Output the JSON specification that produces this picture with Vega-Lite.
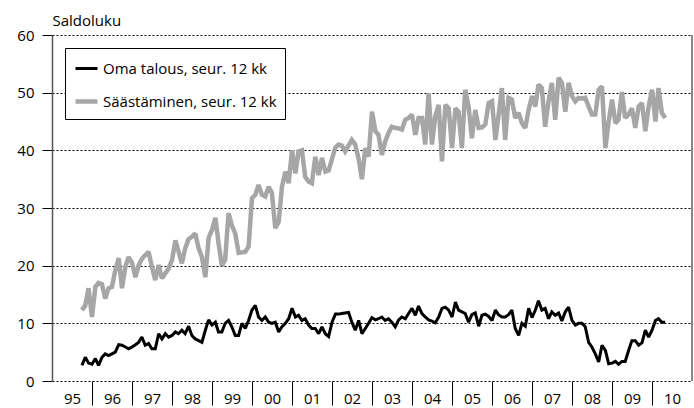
{
  "$schema": "https://vega.github.io/schema/vega-lite/v6.json",
  "width": 640,
  "height": 346,
  "autosize": "none",
  "padding": {"left": 52, "top": 35, "right": 2, "bottom": 27},
  "background": "white",
  "config": {"view": {"stroke": null}, "font": "Open Sans"},
  "data": {"values": [
    {"d":"1995-10-01","o":2.7,"s":12.3},{"d":"1995-11-01","o":4.1,"s":13.1},{"d":"1995-12-01","o":3.1,"s":16.1},
    {"d":"1996-01-01","o":2.9,"s":11.1},{"d":"1996-02-01","o":3.9,"s":16.3},{"d":"1996-03-01","o":2.7,"s":17},{"d":"1996-04-01","o":4.1,"s":16.8},{"d":"1996-05-01","o":4.7,"s":14.3},{"d":"1996-06-01","o":4.4,"s":16.1},{"d":"1996-07-01","o":4.7,"s":16.3},{"d":"1996-08-01","o":5,"s":19.2},{"d":"1996-09-01","o":6.3,"s":21.3},{"d":"1996-10-01","o":6.2,"s":16.1},{"d":"1996-11-01","o":5.9,"s":19.8},{"d":"1996-12-01","o":5.6,"s":21.5},
    {"d":"1997-01-01","o":5.9,"s":20.5},{"d":"1997-02-01","o":6.3,"s":18},{"d":"1997-03-01","o":6.7,"s":20},{"d":"1997-04-01","o":7.6,"s":21.2},{"d":"1997-05-01","o":6.2,"s":21.8},{"d":"1997-06-01","o":6.5,"s":22.4},{"d":"1997-07-01","o":5.6,"s":19.8},{"d":"1997-08-01","o":5.6,"s":17.5},{"d":"1997-09-01","o":8.2,"s":20.1},{"d":"1997-10-01","o":7.3,"s":17.8},{"d":"1997-11-01","o":8.2,"s":18.7},{"d":"1997-12-01","o":7.6,"s":19.5},
    {"d":"1998-01-01","o":7.9,"s":21},{"d":"1998-02-01","o":8.5,"s":24.4},{"d":"1998-03-01","o":8.2,"s":22.5},{"d":"1998-04-01","o":8.8,"s":20.4},{"d":"1998-05-01","o":8.2,"s":23},{"d":"1998-06-01","o":9.5,"s":24.6},{"d":"1998-07-01","o":7.9,"s":25},{"d":"1998-08-01","o":7.3,"s":25.6},{"d":"1998-09-01","o":7,"s":23},{"d":"1998-10-01","o":6.7,"s":21.5},{"d":"1998-11-01","o":8.8,"s":18},{"d":"1998-12-01","o":10.6,"s":24.8},
    {"d":"1999-01-01","o":9.7,"s":26.2},{"d":"1999-02-01","o":10.2,"s":28.3},{"d":"1999-03-01","o":8.5,"s":24},{"d":"1999-04-01","o":8.5,"s":20},{"d":"1999-05-01","o":10,"s":21},{"d":"1999-06-01","o":10.5,"s":29.1},{"d":"1999-07-01","o":9.4,"s":27},{"d":"1999-08-01","o":7.9,"s":25.6},{"d":"1999-09-01","o":7.9,"s":22.2},{"d":"1999-10-01","o":10,"s":22.3},{"d":"1999-11-01","o":9.1,"s":22.4},{"d":"1999-12-01","o":10.5,"s":23.3},
    {"d":"2000-01-01","o":12.3,"s":31.7},{"d":"2000-02-01","o":13.1,"s":32.3},{"d":"2000-03-01","o":11.1,"s":34},{"d":"2000-04-01","o":10.5,"s":32.3},{"d":"2000-05-01","o":11.1,"s":32},{"d":"2000-06-01","o":10.2,"s":33.7},{"d":"2000-07-01","o":10,"s":32.6},{"d":"2000-08-01","o":10.2,"s":26.5},{"d":"2000-09-01","o":8.5,"s":27.6},{"d":"2000-10-01","o":9.4,"s":33.7},{"d":"2000-11-01","o":10,"s":36.3},{"d":"2000-12-01","o":10.8,"s":34.3},
    {"d":"2001-01-01","o":12.6,"s":40},{"d":"2001-02-01","o":11.1,"s":36},{"d":"2001-03-01","o":11.4,"s":39.8},{"d":"2001-04-01","o":10.5,"s":40},{"d":"2001-05-01","o":10.8,"s":35.4},{"d":"2001-06-01","o":9.7,"s":34.6},{"d":"2001-07-01","o":9.1,"s":34.3},{"d":"2001-08-01","o":9.1,"s":38.9},{"d":"2001-09-01","o":8.2,"s":35.7},{"d":"2001-10-01","o":9.4,"s":38.7},{"d":"2001-11-01","o":8.2,"s":36.3},{"d":"2001-12-01","o":7.7,"s":36.5},
    {"d":"2002-01-01","o":10.2,"s":38.5},{"d":"2002-02-01","o":11.6,"s":40.5},{"d":"2002-03-01","o":11.6,"s":41},{"d":"2002-04-01","o":11.7,"s":40.8},{"d":"2002-05-01","o":11.8,"s":39.8},{"d":"2002-06-01","o":11.9,"s":40.8},{"d":"2002-07-01","o":10.2,"s":41.8},{"d":"2002-08-01","o":8.8,"s":41},{"d":"2002-09-01","o":10.5,"s":38.5},{"d":"2002-10-01","o":8.2,"s":35},{"d":"2002-11-01","o":9.1,"s":40.4},{"d":"2002-12-01","o":10,"s":38.9},
    {"d":"2003-01-01","o":11,"s":46.7},{"d":"2003-02-01","o":10.6,"s":43.3},{"d":"2003-03-01","o":10.8,"s":42.7},{"d":"2003-04-01","o":11.1,"s":39.2},{"d":"2003-05-01","o":10.5,"s":41.5},{"d":"2003-06-01","o":10.8,"s":43},{"d":"2003-07-01","o":10.2,"s":44.1},{"d":"2003-08-01","o":9.4,"s":43.9},{"d":"2003-09-01","o":10.6,"s":43.8},{"d":"2003-10-01","o":11.1,"s":43.6},{"d":"2003-11-01","o":10.8,"s":45.3},{"d":"2003-12-01","o":11.7,"s":45.6},
    {"d":"2004-01-01","o":12.6,"s":46.2},{"d":"2004-02-01","o":11.4,"s":42.7},{"d":"2004-03-01","o":13,"s":45.6},{"d":"2004-04-01","o":11.7,"s":45.6},{"d":"2004-05-01","o":11.1,"s":41},{"d":"2004-06-01","o":10.6,"s":49.9},{"d":"2004-07-01","o":10.4,"s":41},{"d":"2004-08-01","o":10.1,"s":45.9},{"d":"2004-09-01","o":11.1,"s":47.9},{"d":"2004-10-01","o":12.6,"s":38.1},{"d":"2004-11-01","o":12.8,"s":47.9},{"d":"2004-12-01","o":12.3,"s":47.3},
    {"d":"2005-01-01","o":11.1,"s":40.4},{"d":"2005-02-01","o":13.7,"s":47.3},{"d":"2005-03-01","o":12.3,"s":46.7},{"d":"2005-04-01","o":12,"s":40.4},{"d":"2005-05-01","o":11.7,"s":50.5},{"d":"2005-06-01","o":10.2,"s":47.6},{"d":"2005-07-01","o":11.5,"s":42.1},{"d":"2005-08-01","o":11.8,"s":47},{"d":"2005-09-01","o":9.5,"s":43.9},{"d":"2005-10-01","o":11.4,"s":44},{"d":"2005-11-01","o":11.6,"s":44.5},{"d":"2005-12-01","o":11.2,"s":48.2},
    {"d":"2006-01-01","o":10.5,"s":48.5},{"d":"2006-02-01","o":12.3,"s":41.8},{"d":"2006-03-01","o":11.5,"s":46},{"d":"2006-04-01","o":11.1,"s":50.8},{"d":"2006-05-01","o":11.1,"s":41.8},{"d":"2006-06-01","o":11.5,"s":49.1},{"d":"2006-07-01","o":12.3,"s":48.8},{"d":"2006-08-01","o":9.1,"s":45.6},{"d":"2006-09-01","o":7.9,"s":46.5},{"d":"2006-10-01","o":10,"s":44.7},{"d":"2006-11-01","o":9.5,"s":43.9},{"d":"2006-12-01","o":12.6,"s":47},
    {"d":"2007-01-01","o":11,"s":49.4},{"d":"2007-02-01","o":12.3,"s":47.6},{"d":"2007-03-01","o":13.9,"s":51.4},{"d":"2007-04-01","o":12.3,"s":50.8},{"d":"2007-05-01","o":12.6,"s":44.1},{"d":"2007-06-01","o":10.8,"s":48.5},{"d":"2007-07-01","o":12,"s":51.7},{"d":"2007-08-01","o":11.4,"s":45.3},{"d":"2007-09-01","o":11.8,"s":52.6},{"d":"2007-10-01","o":10.4,"s":51.7},{"d":"2007-11-01","o":12,"s":46.7},{"d":"2007-12-01","o":12.8,"s":51.7},
    {"d":"2008-01-01","o":10.5,"s":49.4},{"d":"2008-02-01","o":9.7,"s":48.5},{"d":"2008-03-01","o":10,"s":49.1},{"d":"2008-04-01","o":10,"s":49},{"d":"2008-05-01","o":9.4,"s":49.1},{"d":"2008-06-01","o":6.7,"s":47.6},{"d":"2008-07-01","o":5.9,"s":46.2},{"d":"2008-08-01","o":4.7,"s":46.2},{"d":"2008-09-01","o":3.3,"s":50.5},{"d":"2008-10-01","o":6.2,"s":51.1},{"d":"2008-11-01","o":5.3,"s":40.4},{"d":"2008-12-01","o":3,"s":45},
    {"d":"2009-01-01","o":3.1,"s":48.8},{"d":"2009-02-01","o":3.4,"s":44.7},{"d":"2009-03-01","o":2.9,"s":45.3},{"d":"2009-04-01","o":3.4,"s":50.1},{"d":"2009-05-01","o":3.4,"s":45.6},{"d":"2009-06-01","o":5.3,"s":46.2},{"d":"2009-07-01","o":7,"s":47.3},{"d":"2009-08-01","o":7,"s":43.9},{"d":"2009-09-01","o":6.2,"s":47.6},{"d":"2009-10-01","o":6.6,"s":48.2},{"d":"2009-11-01","o":8.8,"s":43.3},{"d":"2009-12-01","o":7.6,"s":47.6},
    {"d":"2010-01-01","o":8.8,"s":50.5},{"d":"2010-02-01","o":10.5,"s":45},{"d":"2010-03-01","o":10.8,"s":50.8},{"d":"2010-04-01","o":10.2,"s":46.5},{"d":"2010-05-01","o":10.2,"s":45.6}
  ]},
  "layer": [
    {
      "transform": [{"fold": ["o", "s"], "as": ["k", "v"]}],
      "mark": {"type": "line", "strokeJoin": "miter", "strokeMiterLimit": 2},
      "encoding": {
        "x": {
          "field": "d", "type": "temporal",
          "scale": {"type": "utc", "domain": [{"year": 1995, "month": 1, "date": 1, "utc": true}, {"year": 2011, "month": 1, "date": 1, "utc": true}]},
          "axis": {
            "title": null,
            "values": [
              {"year": 1995, "month": 1, "date": 1, "utc": true},{"year": 1996, "month": 1, "date": 1, "utc": true},{"year": 1997, "month": 1, "date": 1, "utc": true},{"year": 1998, "month": 1, "date": 1, "utc": true},
              {"year": 1999, "month": 1, "date": 1, "utc": true},{"year": 2000, "month": 1, "date": 1, "utc": true},{"year": 2001, "month": 1, "date": 1, "utc": true},{"year": 2002, "month": 1, "date": 1, "utc": true},
              {"year": 2003, "month": 1, "date": 1, "utc": true},{"year": 2004, "month": 1, "date": 1, "utc": true},{"year": 2005, "month": 1, "date": 1, "utc": true},{"year": 2006, "month": 1, "date": 1, "utc": true},
              {"year": 2007, "month": 1, "date": 1, "utc": true},{"year": 2008, "month": 1, "date": 1, "utc": true},{"year": 2009, "month": 1, "date": 1, "utc": true},{"year": 2010, "month": 1, "date": 1, "utc": true}
            ],
            "format": "%y",
            "grid": false,
            "domain": false,
            "tickSize": 24,
            "tickColor": "#000000",
            "tickWidth": 1,
            "tickOpacity": {"condition": {"test": "utcyear(datum.value) == 1995", "value": 0}, "value": 1},
            "labelOffset": 20,
            "labelPadding": -14,
            "labelBaseline": "top",
            "labelFontSize": 15,
            "labelColor": "#000000",
            "labelFlush": false,
            "labelOverlap": false,
            "labelBound": false
          }
        },
        "y": {
          "field": "v", "type": "quantitative",
          "scale": {"domain": [0, 60], "nice": false},
          "axis": {
            "values": [0, 10, 20, 30, 40, 50, 60],
            "title": "Saldoluku",
            "titleAngle": 0,
            "titleAlign": "left",
            "titleBaseline": "alphabetic",
            "titleX": 0,
            "titleY": -10,
            "titleFontSize": 15,
            "titleFontWeight": "normal",
            "titleColor": "#000000",
            "grid": true,
            "gridColor": "#000000",
            "gridDash": [2, 2],
            "gridWidth": 1,
            "gridOpacity": 1,
            "domain": true,
            "domainColor": "#555555",
            "domainWidth": 1.5,
            "tickSize": 10,
            "tickColor": "#000000",
            "tickWidth": 1,
            "labelFontSize": 15,
            "labelColor": "#000000",
            "labelPadding": 8
          }
        },
        "color": {
          "field": "k", "type": "nominal",
          "scale": {"domain": ["o", "s"], "range": ["#000000", "#a6a6a6"]},
          "legend": {
            "orient": "none", "legendX": 13, "legendY": 13,
            "title": null,
            "strokeColor": "#000000",
            "fillColor": "#ffffff",
            "padding": 8,
            "symbolType": "stroke",
            "symbolSize": 484,
            "labelFontSize": 15,
            "labelColor": "#000000",
            "labelOffset": 3,
            "rowPadding": 11,
            "labelLimit": 300,
            "labelExpr": "datum.value == 'o' ? 'Oma talous, seur. 12 kk' : 'Säästäminen, seur. 12 kk'"
          }
        },
        "strokeWidth": {
          "field": "k", "type": "nominal",
          "scale": {"domain": ["o", "s"], "range": [3, 4.5]},
          "legend": {
            "orient": "none", "legendX": 13, "legendY": 13,
            "title": null,
            "strokeColor": "#000000",
            "fillColor": "#ffffff",
            "padding": 8,
            "symbolType": "stroke",
            "symbolSize": 484,
            "labelFontSize": 15,
            "labelColor": "#000000",
            "labelOffset": 3,
            "rowPadding": 11,
            "labelLimit": 300,
            "labelExpr": "datum.value == 'o' ? 'Oma talous, seur. 12 kk' : 'Säästäminen, seur. 12 kk'"
          }
        }
      }
    },
    {
      "mark": {"type": "rule", "color": "#888888", "strokeWidth": 2},
      "encoding": {
        "x": {"datum": {"year": 2011, "month": 1, "date": 1, "utc": true}, "type": "temporal"}
      }
    }
  ]
}
